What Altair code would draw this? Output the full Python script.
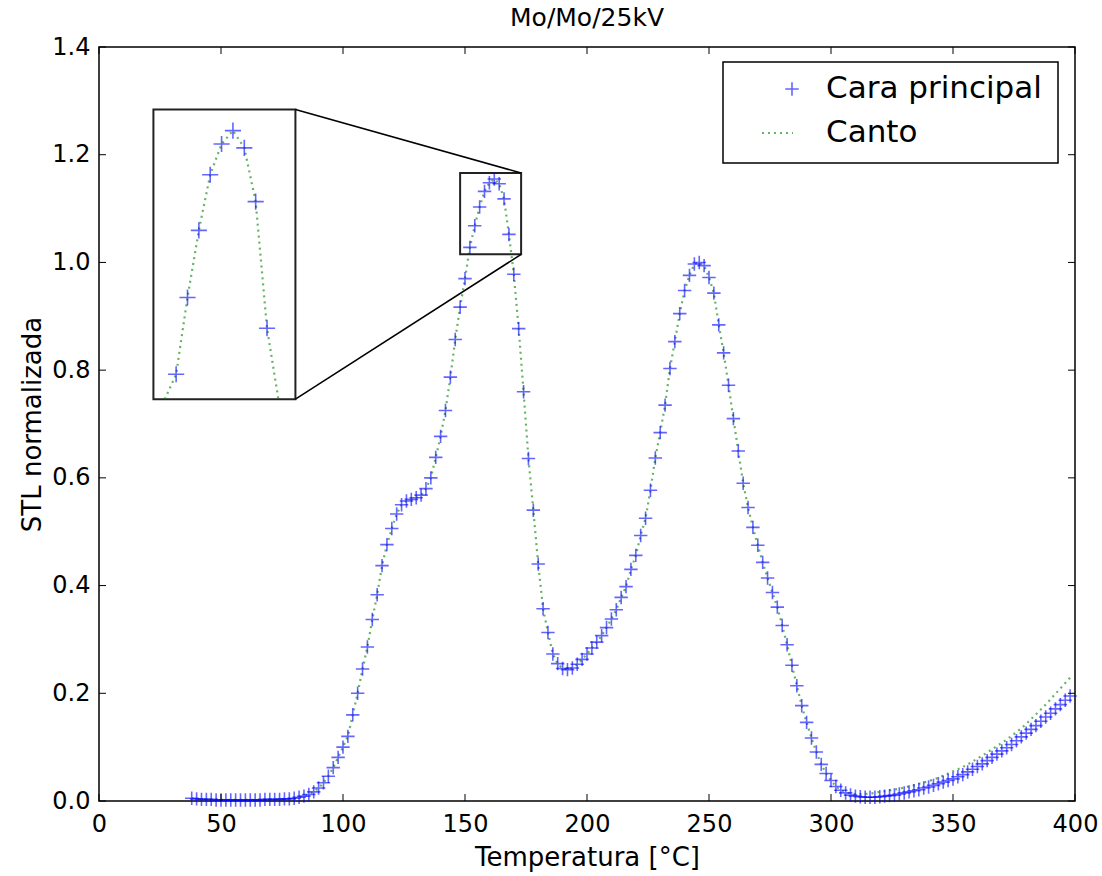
import altair as alt
import pandas as pd

# ---- data -------------------------------------------------------------
TEMPS = [
    38, 40, 42, 44, 46, 48, 50, 52, 54, 56,
    58, 60, 62, 64, 66, 68, 70, 72, 74, 76,
    78, 80, 82, 84, 86, 88, 90, 92, 94, 96,
    98, 100, 102, 104, 106, 108, 110, 112, 114, 116,
    118, 120, 122, 124, 126, 128, 130, 132, 134, 136,
    138, 140, 142, 144, 146, 148, 150, 152, 154, 156,
    158, 160, 162, 164, 166, 168, 170, 172, 174, 176,
    178, 180, 182, 184, 186, 188, 190, 192, 194, 196,
    198, 200, 202, 204, 206, 208, 210, 212, 214, 216,
    218, 220, 222, 224, 226, 228, 230, 232, 234, 236,
    238, 240, 242, 244, 246, 248, 250, 252, 254, 256,
    258, 260, 262, 264, 266, 268, 270, 272, 274, 276,
    278, 280, 282, 284, 286, 288, 290, 292, 294, 296,
    298, 300, 302, 304, 306, 308, 310, 312, 314, 316,
    318, 320, 322, 324, 326, 328, 330, 332, 334, 336,
    338, 340, 342, 344, 346, 348, 350, 352, 354, 356,
    358, 360, 362, 364, 366, 368, 370, 372, 374, 376,
    378, 380, 382, 384, 386, 388, 390, 392, 394, 396,
    398,
]

# Normalised TL signal, main face
CARA = [
    0.005, 0.004, 0.003, 0.003, 0.003, 0.002, 0.002, 0.002, 0.002, 0.002,
    0.002, 0.002, 0.002, 0.002, 0.002, 0.003, 0.003, 0.003, 0.003, 0.004,
    0.004, 0.005, 0.007, 0.009, 0.012, 0.017, 0.024, 0.034, 0.046, 0.062,
    0.081, 0.100, 0.120, 0.160, 0.200, 0.245, 0.286, 0.337, 0.383, 0.437,
    0.476, 0.506, 0.533, 0.550, 0.557, 0.560, 0.563, 0.568, 0.580, 0.600,
    0.638, 0.677, 0.725, 0.787, 0.857, 0.917, 0.970, 1.028, 1.068, 1.103,
    1.132, 1.148, 1.155, 1.146, 1.118, 1.052, 0.978, 0.877, 0.760, 0.636,
    0.540, 0.440, 0.357, 0.313, 0.273, 0.255, 0.246, 0.244, 0.247, 0.254,
    0.263, 0.273, 0.284, 0.295, 0.307, 0.322, 0.338, 0.355, 0.378, 0.398,
    0.430, 0.456, 0.493, 0.525, 0.577, 0.637, 0.684, 0.735, 0.803, 0.853,
    0.905, 0.948, 0.976, 0.997, 1.000, 0.994, 0.972, 0.943, 0.884, 0.832,
    0.772, 0.710, 0.650, 0.590, 0.545, 0.508, 0.475, 0.443, 0.414, 0.387,
    0.360, 0.326, 0.290, 0.252, 0.214, 0.177, 0.146, 0.117, 0.091, 0.068,
    0.051, 0.038, 0.027, 0.020, 0.015, 0.011, 0.009, 0.008, 0.007, 0.007,
    0.007, 0.008, 0.009, 0.010, 0.011, 0.013, 0.015, 0.017, 0.019, 0.021,
    0.024, 0.026, 0.029, 0.032, 0.035, 0.038, 0.041, 0.045, 0.049, 0.054,
    0.059, 0.064, 0.069, 0.075, 0.081, 0.087, 0.093, 0.099, 0.105, 0.112,
    0.119, 0.126, 0.133, 0.140, 0.148, 0.156, 0.163, 0.171, 0.179, 0.187,
    0.195,
]

# The edge reading coincides with the main face up to 304 degC,
# then stays slightly above it.
CANTO_SPLIT_T = 306
CANTO_TAIL = [
    0.016, 0.014, 0.013, 0.013, 0.013, 0.014, 0.015, 0.017, 0.018, 0.020,
    0.021, 0.023, 0.025, 0.027, 0.029, 0.032, 0.034, 0.037, 0.040, 0.043,
    0.047, 0.051, 0.055, 0.059, 0.063, 0.068, 0.073, 0.079, 0.084, 0.090,
    0.096, 0.102, 0.108, 0.114, 0.121, 0.128, 0.135, 0.143, 0.152, 0.161,
    0.170, 0.179, 0.189, 0.199, 0.209, 0.219, 0.229,
]
CANTO = CARA[:TEMPS.index(CANTO_SPLIT_T)] + CANTO_TAIL

SERIES = ["Cara principal", "Canto"]
X_TICKS = [0, 50, 100, 150, 200, 250, 300, 350, 400]
Y_TICKS = [0.0, 0.2, 0.4, 0.6, 0.8, 1.0, 1.2, 1.4]
X_DOMAIN = [0, 400]
Y_DOMAIN = [0, 1.4]

# zoomed window around the first peak and where its inset sits (data units)
ZOOM_X = [148, 173]
ZOOM_Y = [1.015, 1.166]
INSET_X = [22.3, 80.5]
INSET_Y = [0.746, 1.284]

# ---- layout / style ------------------------------------------------------
W, H = 976, 754
FONT = "DejaVu Sans"
BLUE = "#0000ff"
GREEN = "#008000"
PLUS = "M-1,0L1,0M0,-1L0,1"
TICK_LEN = 7
MARK_SIZE = 180

long = pd.concat([
    pd.DataFrame({"T": TEMPS, "v": CARA, "serie": SERIES[0]}),
    pd.DataFrame({"T": TEMPS, "v": CANTO, "serie": SERIES[1]}),
], ignore_index=True)

xs = alt.Scale(domain=X_DOMAIN, nice=False, zero=False)
ys = alt.Scale(domain=Y_DOMAIN, nice=False, zero=False)
x_axis = alt.Axis(values=X_TICKS, format="d", title="Temperatura [°C]",
                  ticks=False, domain=False, grid=False, labelFlush=False,
                  labelOverlap=False, labelFontSize=24, labelColor="black",
                  labelPadding=11, titleFontSize=26, titleFontWeight="normal",
                  titleColor="black", titlePadding=8, labelFont=FONT,
                  titleFont=FONT)
y_axis = alt.Axis(values=Y_TICKS, format=".1f", title="STL normalizada",
                  ticks=False, domain=False, grid=False, labelFlush=False,
                  labelOverlap=False, labelFontSize=24, labelColor="black",
                  labelPadding=9, titleFontSize=26, titleFontWeight="normal",
                  titleColor="black", titlePadding=6, labelFont=FONT,
                  titleFont=FONT)

X = alt.X("T:Q", scale=xs, axis=x_axis)
Y = alt.Y("v:Q", scale=ys, axis=y_axis)
X2 = alt.X2("T2:Q")
Y2 = alt.Y2("v2:Q")

base = alt.Chart(long)

line_style = dict(color=GREEN, strokeDash=[2, 4], strokeWidth=2.2, opacity=0.6)
point_style = dict(shape=PLUS, size=MARK_SIZE, filled=False, color=BLUE,
                   strokeWidth=1.6, opacity=0.6)

canto_line = base.transform_filter(alt.datum.serie == SERIES[1]).mark_line(
    **line_style).encode(x=X, y=Y)
cara_pts = base.transform_filter(alt.datum.serie == SERIES[0]).mark_point(
    **point_style).encode(x=X, y=Y)

# inward ticks on all four sides
xt = alt.Chart(pd.DataFrame({"T": X_TICKS}))
yt = alt.Chart(pd.DataFrame({"v": Y_TICKS}))
tick_style = dict(color="black", strokeWidth=1)
ticks = [
    xt.mark_rule(**tick_style).encode(x=X, y=alt.value(H), y2=alt.value(H - TICK_LEN)),
    xt.mark_rule(**tick_style).encode(x=X, y=alt.value(0), y2=alt.value(TICK_LEN)),
    yt.mark_rule(**tick_style).encode(y=Y, x=alt.value(0), x2=alt.value(TICK_LEN)),
    yt.mark_rule(**tick_style).encode(y=Y, x=alt.value(W), x2=alt.value(W - TICK_LEN)),
]

# zoom window box, inset frame and the two connecting lines
boxes = pd.DataFrame({
    "T": [ZOOM_X[0], INSET_X[0]], "T2": [ZOOM_X[1], INSET_X[1]],
    "v": [ZOOM_Y[0], INSET_Y[0]], "v2": [ZOOM_Y[1], INSET_Y[1]],
    "fill": ["transparent", "white"],
})
box_marks = alt.Chart(boxes).mark_rect(stroke="#222", strokeWidth=2).encode(
    x=X, x2=X2, y=Y, y2=Y2, fill=alt.Fill("fill:N", scale=None)
)
links = pd.DataFrame({
    "T": [INSET_X[1], INSET_X[1]], "T2": [ZOOM_X[1], ZOOM_X[1]],
    "v": [INSET_Y[1], INSET_Y[0]], "v2": [ZOOM_Y[1], ZOOM_Y[0]],
})
link_marks = alt.Chart(links).mark_rule(color="black", strokeWidth=1.5).encode(
    x=X, x2=X2, y=Y, y2=Y2
)

# legend
one = alt.Chart(pd.DataFrame({"k": [0]}))
LEG_ROW = [42, 86]
legend = [
    one.mark_rect(fill="white", stroke="black", strokeWidth=1.5).encode(
        x=alt.value(624), x2=alt.value(959), y=alt.value(15), y2=alt.value(116)),
    one.mark_point(**point_style).encode(x=alt.value(693), y=alt.value(LEG_ROW[0])),
    one.mark_rule(**line_style).encode(
        x=alt.value(663), x2=alt.value(694), y=alt.value(LEG_ROW[1])),
]
for label, row in zip(SERIES, LEG_ROW):
    legend.append(one.mark_text(align="left", baseline="middle", fontSize=31,
                                font=FONT, color="black").encode(
        x=alt.value(727), y=alt.value(row), text=alt.value(label)))

main = alt.layer(canto_line, cara_pts, *ticks, box_marks, link_marks, *legend)

# inset: the same data on its own scales, placed over the inset frame
ix = alt.X("T:Q", axis=None, scale=alt.Scale(
    domain=ZOOM_X, nice=False, zero=False, clamp=True,
    range=[INSET_X[0] / X_DOMAIN[1] * W, INSET_X[1] / X_DOMAIN[1] * W]))
iy = alt.Y("v:Q", axis=None, scale=alt.Scale(
    domain=ZOOM_Y, nice=False, zero=False, clamp=True,
    range=[H * (1 - INSET_Y[0] / Y_DOMAIN[1]), H * (1 - INSET_Y[1] / Y_DOMAIN[1])]))

in_x = (alt.datum.T >= ZOOM_X[0]) & (alt.datum.T <= ZOOM_X[1])
inset_line = base.transform_filter(alt.datum.serie == SERIES[1]).transform_filter(
    in_x & (alt.datum.v >= ZOOM_Y[0] - 0.06)
).mark_line(**line_style).encode(x=ix, y=iy)
inset_pts = base.transform_filter(alt.datum.serie == SERIES[0]).transform_filter(
    in_x & (alt.datum.v >= ZOOM_Y[0]) & (alt.datum.v <= ZOOM_Y[1])
).mark_point(**dict(point_style, size=260)).encode(x=ix, y=iy)
inset = alt.layer(inset_line, inset_pts)

chart = alt.layer(main, inset).resolve_scale(
    x="independent", y="independent"
).properties(
    width=W, height=H,
    title=alt.Title("Mo/Mo/25kV", fontSize=25, fontWeight="normal", font=FONT,
                    color="black", offset=4, anchor="middle"),
    autosize=alt.AutoSizeParams(type="none"),
    padding={"left": 99, "top": 47, "right": 27, "bottom": 75},
).configure(
    font=FONT, background="white",
    view=alt.ViewConfig(stroke="black", strokeWidth=1.5),
)

chart.save("out.html", embed_options={"renderer": "svg", "actions": False})
